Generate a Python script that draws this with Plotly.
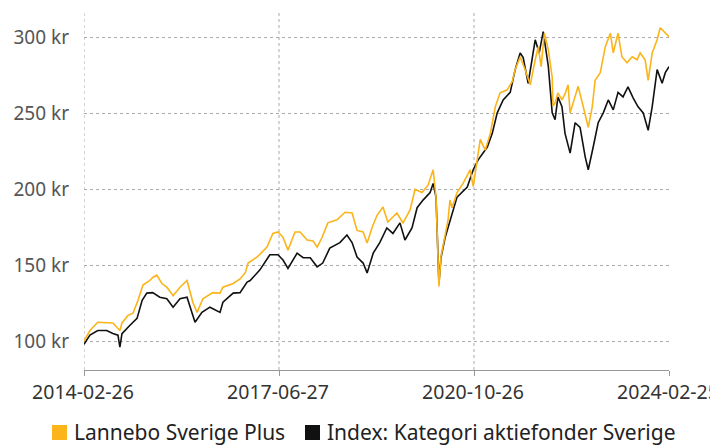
import plotly.graph_objects as go

fund_name = "Lannebo Sverige Plus"
index_name = "Index: Kategori aktiefonder Sverige"

fund_dates = [
    "2014-02-26", "2014-04-04", "2014-05-23", "2014-07-18", "2014-08-25", "2014-10-08", "2014-10-21",
    "2014-11-28", "2014-12-29", "2015-01-29", "2015-03-01", "2015-04-13", "2015-05-01", "2015-05-26",
    "2015-06-27", "2015-07-28", "2015-09-05", "2015-10-18", "2015-12-01", "2016-01-08", "2016-02-02",
    "2016-03-09", "2016-05-10", "2016-06-24", "2016-07-12", "2016-09-14", "2016-10-27", "2016-11-28",
    "2016-12-16", "2017-02-11", "2017-04-13", "2017-05-20", "2017-06-20", "2017-07-22", "2017-08-22",
    "2017-10-05", "2017-11-06", "2017-12-19", "2018-01-26", "2018-02-20", "2018-03-21", "2018-04-28",
    "2018-06-24", "2018-08-13", "2018-09-26", "2018-10-27", "2018-12-04", "2018-12-29", "2019-01-29",
    "2019-03-01", "2019-04-07", "2019-05-07", "2019-07-03", "2019-08-10", "2019-09-23", "2019-10-24",
    "2019-12-07", "2020-01-14", "2020-02-14", "2020-03-03", "2020-03-21", "2020-04-03", "2020-04-28",
    "2020-05-17", "2020-05-29", "2020-06-11", "2020-07-12", "2020-08-19", "2020-10-02", "2020-10-21",
    "2020-11-15", "2020-12-04", "2021-01-04", "2021-02-05", "2021-03-08", "2021-04-07", "2021-05-21",
    "2021-06-21", "2021-07-10", "2021-08-10", "2021-09-10", "2021-10-12", "2021-11-12", "2021-12-01",
    "2021-12-19", "2022-01-08", "2022-02-02", "2022-02-26", "2022-03-03", "2022-03-16", "2022-04-03",
    "2022-04-28", "2022-05-17", "2022-06-05", "2022-06-18", "2022-07-07", "2022-08-07", "2022-09-08",
    "2022-10-09", "2022-11-03", "2022-11-21", "2022-12-23", "2023-01-23", "2023-02-24", "2023-03-14",
    "2023-04-13", "2023-05-07", "2023-06-08", "2023-07-10", "2023-08-10", "2023-08-29", "2023-09-29",
    "2023-10-18", "2023-11-12", "2023-12-13", "2024-01-01", "2024-02-02", "2024-02-25",
]
fund_values = [
    100, 107, 112.5, 112, 112, 107, 112,
    117, 118.5, 127, 137, 140, 142, 143.5,
    138, 135.6, 130, 135.6, 140, 125, 119,
    128, 132, 131.7, 135.6, 138, 141, 145,
    151.5, 155.5, 162, 171, 172, 168.6, 160,
    172, 172, 166.7, 166, 162, 168, 178,
    180, 185, 184.5, 173, 172, 164.7, 175,
    183, 188.4, 178.5, 184.5, 178, 186.5, 200,
    198, 203, 213, 195, 136, 156, 170,
    180, 193, 188, 198, 204, 213, 202,
    219.5, 233, 226, 237, 254.5, 263.7, 265.7,
    271, 279, 287.5, 279, 269, 285.5, 294,
    281, 303, 292, 274, 255, 257, 263.7,
    259, 263, 269, 250.5, 257, 268, 254.5,
    241, 254.5, 272, 277, 294, 303, 290,
    303, 287.5, 283.5, 287.5, 285.5, 290, 285.5,
    272, 290, 298.7, 306.6, 303, 300.7,
]

index_dates = [
    "2014-02-26", "2014-04-04", "2014-05-23", "2014-07-18", "2014-08-25", "2014-09-26", "2014-10-08",
    "2014-10-21", "2014-12-10", "2015-01-23", "2015-02-24", "2015-03-25", "2015-05-01", "2015-06-14",
    "2015-07-28", "2015-09-05", "2015-10-18", "2015-12-01", "2016-01-20", "2016-03-03", "2016-04-22",
    "2016-06-24", "2016-07-12", "2016-09-14", "2016-10-27", "2016-12-10", "2016-12-29", "2017-02-28",
    "2017-05-01", "2017-06-20", "2017-07-22", "2017-08-22", "2017-10-18", "2017-11-25", "2018-01-08",
    "2018-02-20", "2018-03-27", "2018-05-10", "2018-07-12", "2018-08-25", "2018-09-26", "2018-10-27",
    "2018-12-04", "2018-12-29", "2019-02-05", "2019-03-18", "2019-05-01", "2019-06-08", "2019-07-22",
    "2019-08-22", "2019-10-05", "2019-11-06", "2019-12-13", "2020-01-26", "2020-02-14", "2020-03-03",
    "2020-03-21", "2020-04-03", "2020-04-28", "2020-05-17", "2020-06-11", "2020-07-12", "2020-09-14",
    "2020-10-21", "2020-11-21", "2021-01-17", "2021-02-17", "2021-03-20", "2021-04-26", "2021-06-09",
    "2021-07-10", "2021-08-10", "2021-08-29", "2021-09-29", "2021-11-12", "2021-12-07", "2022-01-01",
    "2022-02-02", "2022-02-26", "2022-03-16", "2022-04-03", "2022-04-28", "2022-05-17", "2022-06-18",
    "2022-07-19", "2022-08-19", "2022-09-20", "2022-10-09", "2022-11-09", "2022-12-10", "2023-01-11",
    "2023-02-11", "2023-03-14", "2023-04-13", "2023-05-14", "2023-06-14", "2023-07-16", "2023-08-16",
    "2023-09-17", "2023-10-18", "2023-11-12", "2023-12-13", "2024-01-13", "2024-02-02", "2024-02-25",
]
index_values = [
    98, 104, 107, 107, 105, 104, 96,
    105, 110.5, 115, 127, 131.7, 132, 129,
    128, 122.4, 128, 129, 112.5, 119, 122.4,
    119, 125.7, 131.7, 132, 139, 140, 147,
    157, 157, 153.5, 148, 158, 155, 155,
    149, 151.5, 161.4, 165, 170, 165, 155.5,
    151.5, 145, 158, 165, 174.6, 171, 178,
    166.7, 174.6, 188, 193, 198, 204, 195,
    138, 155, 168, 175, 184.5, 195, 201.6,
    213, 219.5, 228, 237, 250.5, 259, 264,
    279, 290, 287, 270, 298.7, 290, 304,
    281, 250.5, 246, 261, 254.5, 237, 224,
    244, 241, 221.5, 213, 228, 244, 250.5,
    259, 252.5, 264, 261, 267.6, 260.4, 254.5,
    250.5, 239, 254.5, 279, 270, 277, 281,
]

x_ticks = ["2014-02-26", "2017-06-27", "2020-10-26", "2024-02-25"]
y_ticks = [100, 150, 200, 250, 300]
y_tick_text = [f"{v} kr" for v in y_ticks]

GOLD = "#FBB41A"
BLACK = "#111111"
GRID = "#aaaaaa"
FONT = "Noto Sans"

fig = go.Figure()
fig.add_trace(go.Scatter(x=index_dates, y=index_values, mode="lines", name=index_name,
                         line=dict(color=BLACK, width=1.6), showlegend=False, hoverinfo="skip"))
fig.add_trace(go.Scatter(x=fund_dates, y=fund_values, mode="lines", name=fund_name,
                         line=dict(color=GOLD, width=1.6), showlegend=False, hoverinfo="skip"))

shapes = []
annotations = []

# vertical dashed grid lines at every tick except the right edge
for d in x_ticks[:-1]:
    shapes.append(dict(type="line", xref="x", yref="paper", x0=d, x1=d, y0=0, y1=1,
                       line=dict(color=GRID, width=1, dash="3px,3px"), layer="below"))

# manual legend (squares + labels) below the plot
legend_items = [
    (fund_name, GOLD, -0.0547),
    (index_name, BLACK, 0.3778),
]
for name, color, x0 in legend_items:
    shapes.append(dict(type="rect", xref="paper", yref="paper",
                       x0=x0, x1=x0 + 0.0256, y0=-0.1955, y1=-0.1536,
                       fillcolor=color, line=dict(width=0), layer="above"))
    annotations.append(dict(text=name, xref="paper", yref="paper",
                            x=x0 + 0.0342, y=-0.1745, xanchor="left", yanchor="middle",
                            showarrow=False, font=dict(size=21, color="#222222")))

fig.update_layout(
    width=710, height=438,
    margin=dict(l=76, r=49, t=4, b=76),
    paper_bgcolor="white", plot_bgcolor="white",
    font=dict(family=FONT, size=18, color="#333333"),
    showlegend=False,
    shapes=shapes, annotations=annotations,
)
fig.update_xaxes(
    type="date", range=["2014-02-26", "2024-02-25"],
    tickmode="array", tickvals=x_ticks, ticktext=x_ticks,
    showgrid=False,
    showline=True, linecolor="#999999", linewidth=1,
    ticks="outside", ticklen=5, tickcolor="#999999",
    tickfont=dict(size=19.5, color="#333333"), automargin=False,
    ticklabeloverflow="allow", ticklabelshift=-1,
)
fig.update_yaxes(
    range=[81, 317], tickmode="array", tickvals=y_ticks, ticktext=y_tick_text,
    showgrid=True, gridcolor=GRID, griddash="3px,3px", gridwidth=1,
    showline=False, zeroline=False, ticks="", ticklabelstandoff=14,
    tickfont=dict(size=19, color="#555555"), automargin=False,
)

fig.write_html("out.html")
